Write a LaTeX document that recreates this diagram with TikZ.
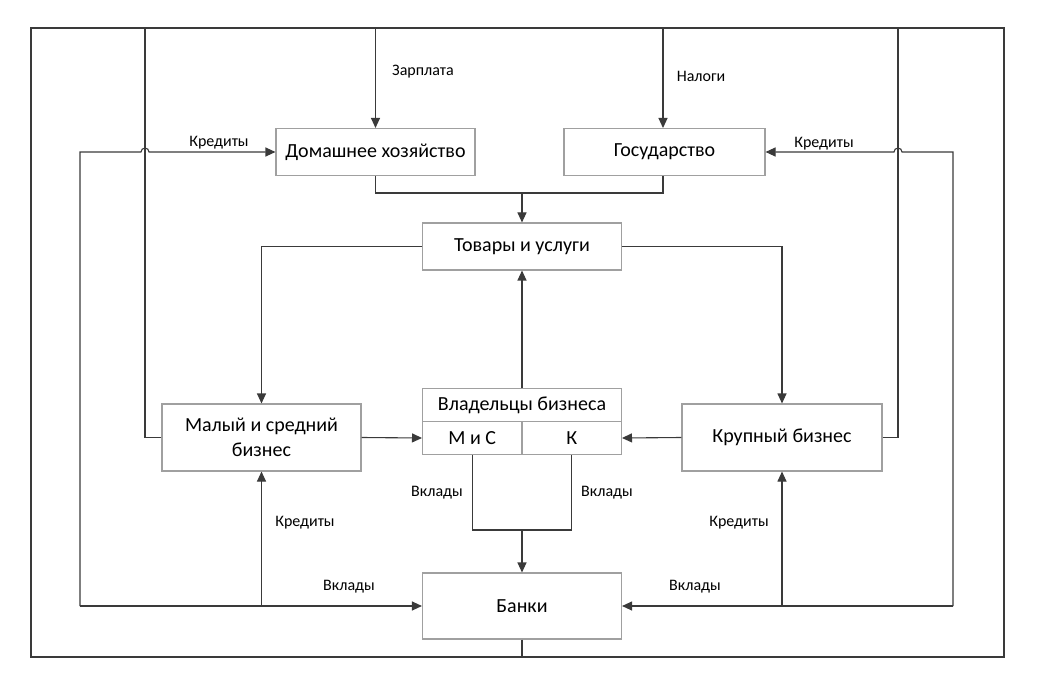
\documentclass[tikz,border=0pt]{standalone}
\usepackage{fontspec}
\setmainfont{Carlito}
\usetikzlibrary{arrows.meta}

\definecolor{boxgray}{HTML}{A0A0A0}
\definecolor{linegray}{HTML}{3A3A3A}

\tikzset{
  box/.style={draw=boxgray, line width=1.1pt, fill=white, align=center,
    inner sep=0pt, font=\fontsize{20}{25}\selectfont},
  wire/.style={draw=linegray, line width=1.1pt},
  flow/.style={wire, -{Triangle[length=10pt,width=9pt]}},
  lbl/.style={inner sep=0pt, font=\fontsize{16}{19}\selectfont},
}

\begin{document}
\begin{tikzpicture}[x=1pt, y=-1pt]
    \useasboundingbox (0,0) rectangle (1059,692);

    % Boxes
    \node[box, minimum width=199pt, minimum height=47pt] (dom) at (375.5,152) {Домашнее хозяйство};
    \node[box, minimum width=201pt, minimum height=47pt] (gos) at (664.5,152) {Государство};
    \node[box, minimum width=199pt, minimum height=47pt] (tov) at (522,246.5) {Товары и услуги};
    \node[box, minimum width=199pt, minimum height=67pt] (msb) at (261.5,437.5) {Малый и средний\\бизнес};
    \node[box, minimum width=200pt, minimum height=67pt] (krup) at (782,437.5) {Крупный бизнес};
    \node[box, minimum width=199pt, minimum height=33.5pt] (vlad) at (522,405) {Владельцы бизнеса};
    \node[box, minimum width=99.5pt, minimum height=32.5pt] (mis) at (472.3,438) {М и С};
    \node[box, minimum width=99.5pt, minimum height=32.5pt] (kk) at (571.7,438) {К};
    \node[box, minimum width=199pt, minimum height=66pt] (bank) at (522,606) {Банки};

    \coordinate (lt) at (31,28);
    \coordinate (rb) at (1004,657);
    \coordinate (lc) at (80,606);   % left credits / deposits corner
    \coordinate (rc) at (953,606);  % right credits / deposits corner
    \coordinate (hj) at (522,193);  % join under the top boxes
    \coordinate (vj) at (522,530);  % join of the owners' deposits

    % Outer loop from the banks
    \draw[wire] (lt) rectangle (rb);
    \draw[wire] (bank.south) -- (bank.south |- rb);

    % Salary, taxes and the links to the businesses
    \draw[wire] (msb.west) -- (145,437.5) -- (145,28);
    \draw[wire] (krup.east) -- (898,437.5) -- (898,28);
    \draw[flow] (dom.north |- lt) -- (dom.north);
    \draw[flow] (663,28) -- (663,128);

    % Credits and deposits, left
    \draw[flow] (lc) -- (80,152) -- (141,152) arc[start angle=180, end angle=0, radius=4pt] -- (dom.west);
    \draw[flow] (lc) -- (bank.west);
    \draw[flow] (msb.south |- lc) -- (msb.south);

    % Credits and deposits, right
    \draw[flow] (rc) -- (953,152) -- (902,152) arc[start angle=0, end angle=180, radius=4pt] -- (gos.east);
    \draw[flow] (rc) -- (bank.east);
    \draw[flow] (krup.south |- rc) -- (krup.south);

    % Middle
    \draw[wire] (dom.south) |- (hj) -| (663,176);
    \draw[flow] (hj) -- (tov.north);
    \draw[flow] (tov.west) -| (msb.north);
    \draw[flow] (tov.east) -| (krup.north);
    \draw[flow] (vlad.north) -- (tov.south);
    \draw[flow] (msb.east) -- (mis.west);
    \draw[flow] (krup.west) -- (kk.east);
    \draw[wire] (mis.south) |- (vj) -| (kk.south);
    \draw[flow] (vj) -- (bank.north);

    % Labels
    \foreach \name/\lx/\ly/\txt in {zp/423/72/Зарплата, nal/701/76/Налоги,
        krl/219/143/Кредиты, krr/824/144/Кредиты,
        vkm/437/493/Вклады, vkk/607/493/Вклады,
        krm/305/523/Кредиты, krk/739/523/Кредиты,
        vbl/349/587/Вклады, vbr/695/587/Вклады}
        \node[lbl] (\name) at (\lx,\ly) {\txt};
\end{tikzpicture}
\end{document}
